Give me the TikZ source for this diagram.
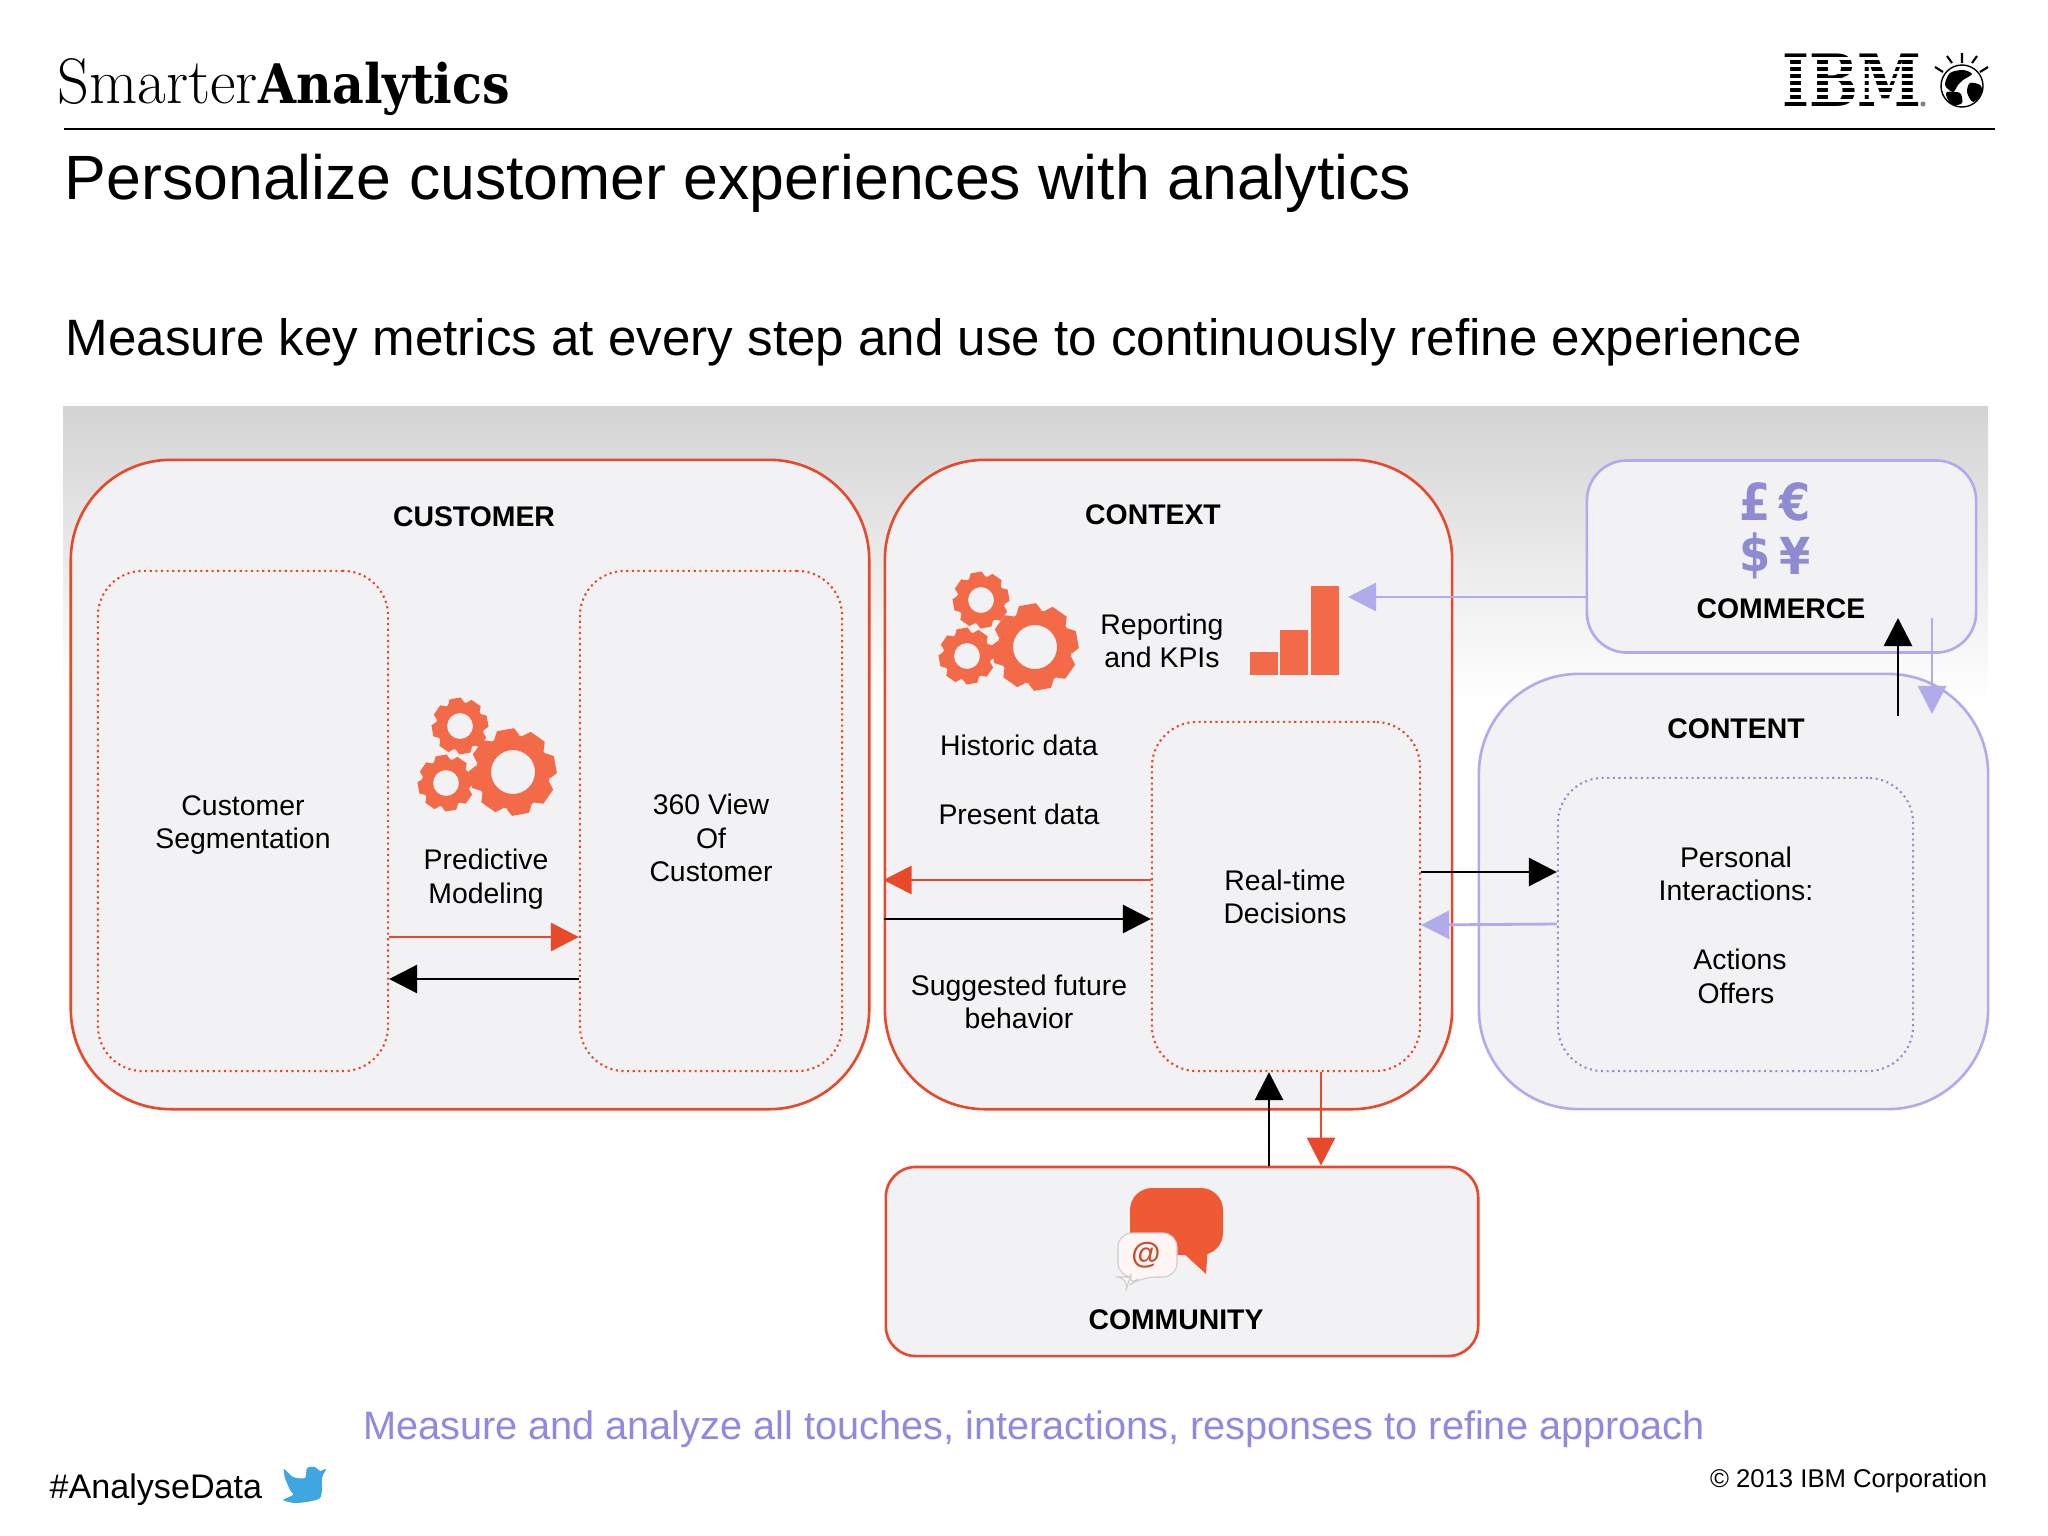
\documentclass[tikz,border=0pt]{standalone}
\usepackage{fontspec}
\setsansfont{Liberation Sans}
\newfontfamily\slabfont{DejaVu Serif}
\newfontfamily\signfont{DejaVu Sans}
\usetikzlibrary{arrows.meta}
\definecolor{boxfill}{HTML}{F2F2F4}
\definecolor{redline}{HTML}{E8492B}
\definecolor{lilacline}{HTML}{B0ACEC}
\definecolor{lilactext}{HTML}{8F8AE0}
\definecolor{lilacsign}{HTML}{8F8BD0}
\definecolor{gearcol}{HTML}{F26A47}
\definecolor{bubblecol}{HTML}{EF5A35}
\definecolor{birdcol}{HTML}{3EA6E0}
\tikzset{
  bodytext/.style={font=\sffamily\fontsize{8.07}{9.5}\selectfont,align=center,inner sep=0},
  headtext/.style={font=\sffamily\bfseries\fontsize{8.07}{9.5}\selectfont,align=center,inner sep=0},
  signtext/.style={font=\signfont\bfseries\fontsize{14.5}{16}\selectfont,text=lilacsign,inner sep=0,xscale=.88},
  redbox/.style={draw=redline,fill=boxfill,line width=.75pt,rounded corners=1cm},
  lilacbox/.style={draw=lilacline,fill=boxfill,line width=.75pt,rounded corners=1cm},
  reddots/.style={draw=redline,line width=.6pt,densely dotted,rounded corners=.45cm},
  lilacdots/.style={draw=lilacline!85!black,line width=.6pt,densely dotted,rounded corners=.45cm},
  blackarrow/.style={line width=.8pt,-{Triangle[length=.28cm,width=.28cm]}},
  redarrow/.style={draw=redline,line width=.8pt,-{Triangle[length=.28cm,width=.28cm,fill=redline]}},
  lilacarrow/.style={draw=lilacline,line width=.8pt,-{Triangle[length=.28cm,width=.28cm,fill=lilacline]}},
  barfill/.style={fill=gearcol,inner sep=0,minimum width=.28cm,anchor=south west},
}
% center x, center y, outer radius, root radius, hole radius
\newcommand{\gearwheel}[5]{
  \fill[gearcol,even odd rule] (#1,#2) circle (#4) (#1,#2) circle (#5);
  \foreach \a in {0,45,...,315} {
    \fill[gearcol,shift={(#1,#2)},rotate=\a+10]
      (#4-2,-#3*.3) -- (#3,-#3*.2) -- (#3,#3*.2) -- (#4-2,#3*.3) -- cycle;
  }
}
\begin{document}
\begin{tikzpicture}[x=.01cm,y=-.01cm]
  \useasboundingbox (0,0) rectangle (2048,1536);
  \fill[white] (0,0) rectangle (2048,1536);

  % header
  \node[font=\rmfamily\fontsize{18.3}{20}\selectfont,inner sep=0,anchor=base west,xscale=.97] (logoa) at (57,103) {Smarter};
  \node[font=\slabfont\bfseries\fontsize{15.5}{20}\selectfont,inner sep=0,anchor=base west,xscale=.9] (logob) at (258,103) {Analytics};
  \node[font=\slabfont\bfseries\fontsize{20.5}{24}\selectfont,inner sep=0,xscale=.8] (ibm) at (1852,80) {IBM};
  \foreach \y in {58.5,65.5,72.5,79.5,86.5,93.5,100.5} {
    \draw[white,line width=.75pt] (1775,\y) -- (1927,\y);
  }
  \fill[gray] (1923,104) circle (2.5);
  \draw[line width=.4pt] (1962,86) circle (21);
  \fill plot[smooth cycle] coordinates {(1950,73) (1963,70) (1972,74) (1963,80) (1958,85) (1953,92) (1945,85)};
  \fill plot[smooth cycle] coordinates {(1970,83) (1980,85) (1982,93) (1973,102) (1967,92)};
  \fill plot[smooth cycle] coordinates {(1947,92) (1960,93) (1962,103) (1953,105) (1947,98)};
  \draw[line width=.6pt] (1962,53) -- (1962,63) (1947,56) -- (1952,63) (1977,56) -- (1972,63)
    (1935,67) -- (1943,72) (1988,67) -- (1980,72);
  \draw[line width=.75pt] (64,129) -- (1995,129);
  \node[font=\sffamily\fontsize{17.8}{20}\selectfont,inner sep=0,anchor=west] (title) at (64,183) {Personalize customer experiences with analytics};
  \node[font=\sffamily\fontsize{14.54}{18}\selectfont,inner sep=0,anchor=west] (subtitle) at (65,342) {Measure key metrics at every step and use to continuously refine experience};

  % band behind the boxes
  \shade[top color=black!17,bottom color=white] (63,406) rectangle (1988,700);

  % boxes
  \node[redbox,minimum width=7.98cm,minimum height=6.49cm] (customer) at (470,784.5) {};
  \node[reddots,minimum width=2.90cm,minimum height=5.00cm] (segment) at (243,821) {};
  \node[reddots,minimum width=2.62cm,minimum height=5.00cm] (view) at (711,821) {};
  \node[redbox,minimum width=5.67cm,minimum height=6.49cm] (context) at (1168.5,784.5) {};
  \node[reddots,minimum width=2.68cm,minimum height=3.49cm] (realtime) at (1286,896.5) {};
  \node[lilacbox,rounded corners=.4cm,minimum width=3.89cm,minimum height=1.92cm] (commerce) at (1781.5,556.5) {};
  \node[lilacbox,minimum width=5.09cm,minimum height=4.35cm] (content) at (1733.5,891.5) {};
  \node[lilacdots,minimum width=3.55cm,minimum height=2.93cm] (personal) at (1735.5,924.5) {};
  \node[redbox,rounded corners=.3cm,minimum width=5.92cm,minimum height=1.89cm] (community) at (1182,1261.5) {};

  % box texts
  \node[headtext] (customerhead) at (474,517) {CUSTOMER};
  \node[headtext] (contexthead) at (1153,515) {CONTEXT};
  \node[headtext] (commercehead) at (1781,609) {COMMERCE};
  \node[headtext] (contenthead) at (1736,729) {CONTENT};
  \node[headtext] (communityhead) at (1176,1320) {COMMUNITY};
  \node[bodytext] (segmenttext) at (243,825) {Customer\\Segmentation};
  \node[bodytext] (predict) at (486,879) {Predictive\\Modeling};
  \node[bodytext] (viewtext) at (711,838) {360 View\\Of\\Customer};
  \node[bodytext] (reporting) at (1162,641) {Reporting\\and KPIs};
  \node[bodytext] (historic) at (1019,745) {Historic data};
  \node[bodytext] (present) at (1019,814) {Present data};
  \node[bodytext] (future) at (1019,1002) {Suggested future\\behavior};
  \node[bodytext] (realtext) at (1285,897) {Real-time\\Decisions};
  \node[bodytext] (interact) at (1736,874) {Personal\\Interactions:};
  \node[bodytext] (actions) at (1740,959) {Actions};
  \node[bodytext] (offers) at (1736,993) {Offers};

  % icons
  \gearwheel{1035}{647}{43}{37}{22}
  \gearwheel{981}{600}{28}{24}{13}
  \gearwheel{967}{656}{28}{24}{13}
  \gearwheel{513}{772}{43}{37}{22}
  \gearwheel{460}{726}{28}{24}{13}
  \gearwheel{446}{783}{28}{24}{13}
  \node[barfill,minimum height=.23cm] (bara) at (1249,676) {};
  \node[barfill,minimum height=.45cm] (barb) at (1279,676) {};
  \node[barfill,minimum height=.89cm] (barc) at (1310,676) {};
  \node[signtext] (pound) at (1755,502) {£};
  \node[signtext] (euro) at (1795,502) {€};
  \node[signtext] (dollar) at (1755,556) {\$};
  \node[signtext] (yen) at (1795,556) {¥};
  \fill[bubblecol,rounded corners=.22cm] (1130,1188) -- (1223,1188) -- (1223,1255) -- (1130,1255) -- cycle;
  \fill[bubblecol] (1180,1250) -- (1206,1274) -- (1208,1245) -- cycle;
  \draw[draw=black!20,fill=white!96!red,line width=.3pt,rounded corners=.14cm] (1118,1233) -- (1177,1233) -- (1177,1277) -- (1141,1277) -- (1127,1287) -- (1130,1277) -- (1118,1277) -- cycle;
  \node[font=\sffamily\bfseries\fontsize{8.5}{10}\selectfont,text=bubblecol!85!black,inner sep=0] (at) at (1146,1255) {@};

  % connectors
  \draw[redarrow] (segment.east |- 0,937) -- (view.west |- 0,937);
  \draw[blackarrow] (view.west |- 0,979) -- (segment.east |- 0,979);
  \draw[redarrow] (realtime.west |- 0,880) -- (context.west |- 0,880);
  \draw[blackarrow] (context.west |- 0,919) -- (realtime.west |- 0,919);
  \draw[blackarrow] (realtime.east |- 0,872) -- (personal.west |- 0,872);
  \draw[lilacarrow] (personal.west |- 0,924) -- (realtime.east |- 0,925);
  \draw[blackarrow] (community.north -| 1269,0) -- (realtime.south -| 1269,0);
  \draw[redarrow] (realtime.south -| 1321,0) -- (community.north -| 1321,0);
  \coordinate (charttip) at (1348,597);
  \draw[lilacarrow] (commerce.west |- charttip) -- (charttip);
  \coordinate (upstart) at (1898,716);
  \coordinate (uptip) at (1898,618);
  \coordinate (downstart) at (1932,618);
  \coordinate (downtip) at (1932,714);
  \draw[blackarrow] (upstart) -- (uptip);
  \draw[lilacarrow] (downstart) -- (downtip);

  % footer
  \node[font=\sffamily\fontsize{11.29}{13}\selectfont,text=lilactext,inner sep=0] (measure) at (1034,1429) {Measure and analyze all touches, interactions, responses to refine approach};
  \node[font=\sffamily\fontsize{9.7}{12}\selectfont,inner sep=0,anchor=west] (hashtag) at (49,1490) {\#AnalyseData};
  \fill[birdcol] plot[smooth cycle,tension=.45] coordinates {(283,1500) (297,1503) (320,1498) (322,1478) (326,1469) (320,1471) (315,1467) (307,1468) (305,1478) (293,1477) (284,1469) (285,1478) (287,1483) (290,1490) (293,1495)};
  \node[font=\sffamily\fontsize{7.3}{9}\selectfont,inner sep=0,anchor=east] (copyright) at (1988,1481) {© 2013 IBM Corporation};
\end{tikzpicture}
\end{document}
